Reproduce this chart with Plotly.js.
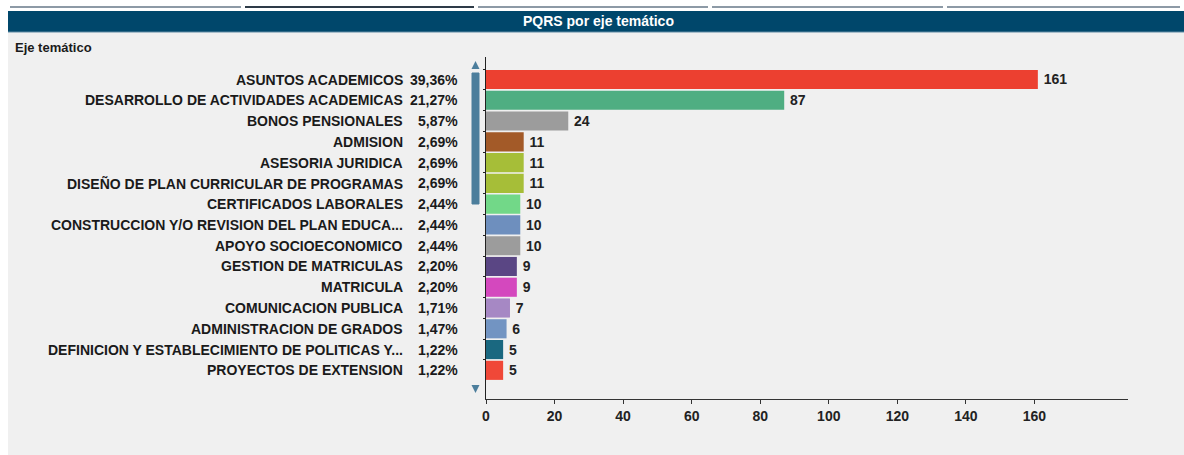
<!DOCTYPE html>
<html>
<head>
<meta charset="utf-8">
<script src="https://cdn.plot.ly/plotly-3.0.1.min.js"></script>
<style>
html,body{margin:0;padding:0;background:#fff;}
#chart{width:1184px;height:455px;}
</style>
</head>
<body>
<div id="chart"></div>
<script>
const categories = [
  "ASUNTOS ACADEMICOS",
  "DESARROLLO DE ACTIVIDADES ACADEMICAS",
  "BONOS PENSIONALES",
  "ADMISION",
  "ASESORIA JURIDICA",
  "DISEÑO DE PLAN CURRICULAR DE PROGRAMAS",
  "CERTIFICADOS LABORALES",
  "CONSTRUCCION Y/O REVISION DEL PLAN EDUCA...",
  "APOYO SOCIOECONOMICO",
  "GESTION DE MATRICULAS",
  "MATRICULA",
  "COMUNICACION PUBLICA",
  "ADMINISTRACION DE GRADOS",
  "DEFINICION Y ESTABLECIMIENTO DE POLITICAS Y...",
  "PROYECTOS DE EXTENSION"
];
const counts = [161, 87, 24, 11, 11, 11, 10, 10, 10, 9, 9, 7, 6, 5, 5];
const percents = ["39,36%", "21,27%", "5,87%", "2,69%", "2,69%", "2,69%", "2,44%", "2,44%", "2,44%", "2,20%", "2,20%", "1,71%", "1,47%", "1,22%", "1,22%"];
const barColors = ["#EC4030", "#4FAE82", "#9C9C9C", "#A35A28", "#A6BE38", "#A6BE38", "#72D888", "#6E8FBE", "#9C9C9C", "#5A4684", "#D448BE", "#A688C4", "#7294C2", "#1A6880", "#F04838"];
const xTicks = [0, 20, 40, 60, 80, 100, 120, 140, 160];
const chartTitle = "PQRS por eje temático";
const axisCaption = "Eje temático";

const W = 1184, H = 455;
const L = 486, R = 56, T = 57, B = 56;
const pw = W - L - R, ph = H - T - B;
const px = x => (x - L) / pw;            // pixel x -> paper x
const py = y => 1 - (y - T) / ph;        // pixel y -> paper y

const font = "Liberation Sans, Arial, sans-serif";
const FS = 14;

const trace = {
  type: "bar",
  orientation: "h",
  x: counts,
  y: categories,
  marker: {color: barColors, line: {width: 0}},
  text: counts.map(v => "\u2009" + v),
  textposition: "outside",
  cliponaxis: false,
  textfont: {family: font, size: FS, color: "#222222", weight: "bold"},
  hoverinfo: "x+y"
};

const annotations = [];
categories.forEach((c, i) => {
  annotations.push({
    xref: "paper", yref: "y", x: px(405), y: c, xanchor: "right", yanchor: "middle",
    text: "<b>" + c + "</b>", showarrow: false,
    font: {family: font, size: FS, color: "#1a1a1a"}
  });
  annotations.push({
    xref: "paper", yref: "y", x: px(460), y: c, xanchor: "right", yanchor: "middle",
    text: "<b>" + percents[i] + "</b>", showarrow: false,
    font: {family: font, size: FS, color: "#1a1a1a"}
  });
});
annotations.push({
  xref: "paper", yref: "paper", x: px(598), y: py(21), xanchor: "center", yanchor: "middle",
  text: "<b>" + chartTitle + "</b>", showarrow: false,
  font: {family: font, size: 14, color: "#ffffff"}
});
annotations.push({
  xref: "paper", yref: "paper", x: px(13), y: py(47), xanchor: "left", yanchor: "middle",
  text: "<b>" + axisCaption + "</b>", showarrow: false,
  font: {family: font, size: 13, color: "#1a1a1a"}
});

const shapes = [
  {type: "rect", xref: "paper", yref: "paper", x0: px(0), x1: px(8), y0: py(0), y1: py(H), fillcolor: "#ffffff", line: {width: 0}, layer: "below"},
  {type: "rect", xref: "paper", yref: "paper", x0: px(0), x1: px(W), y0: py(0), y1: py(11), fillcolor: "#ffffff", line: {width: 0}, layer: "below"},
  {type: "line", xref: "paper", yref: "paper", x0: px(10), x1: px(241), y0: py(7), y1: py(7), line: {color: "#8D9AA6", width: 2}},
  {type: "line", xref: "paper", yref: "paper", x0: px(245), x1: px(474), y0: py(7), y1: py(7), line: {color: "#2E3B48", width: 2}},
  {type: "line", xref: "paper", yref: "paper", x0: px(478), x1: px(708), y0: py(7), y1: py(7), line: {color: "#8D9AA6", width: 2}},
  {type: "line", xref: "paper", yref: "paper", x0: px(712), x1: px(943), y0: py(7), y1: py(7), line: {color: "#8D9AA6", width: 2}},
  {type: "line", xref: "paper", yref: "paper", x0: px(947), x1: px(1180), y0: py(7), y1: py(7), line: {color: "#8D9AA6", width: 2}},
  {type: "rect", xref: "paper", yref: "paper", x0: px(8), x1: px(W), y0: py(32), y1: py(11), fillcolor: "#00476B", line: {width: 0}},
  {type: "line", xref: "paper", yref: "paper", x0: px(8), x1: px(W), y0: py(32), y1: py(32), line: {color: "#5F8AA3", width: 1}},
  {type: "path", xref: "paper", yref: "paper",
   path: `M ${px(471.5)} ${py(69)} L ${px(479.5)} ${py(69)} L ${px(475.5)} ${py(61)} Z`,
   fillcolor: "#4C7E9C", line: {width: 0}},
  {type: "rect", xref: "paper", yref: "paper", x0: px(472), x1: px(479), y0: py(204), y1: py(73), fillcolor: "#4C7E9C", line: {color: "#4C7E9C", width: 1}},
  {type: "path", xref: "paper", yref: "paper",
   path: `M ${px(471.5)} ${py(385)} L ${px(479.5)} ${py(385)} L ${px(475.5)} ${py(393)} Z`,
   fillcolor: "#4C7E9C", line: {width: 0}}
];

const layout = {
  width: W, height: H,
  margin: {l: L, r: R, t: T, b: B, pad: 0},
  paper_bgcolor: "#F0F0F0",
  plot_bgcolor: "#F0F0F0",
  showlegend: false,
  bargap: 0.08,
  font: {family: font, color: "#1a1a1a"},
  xaxis: {
    range: [0, 187.3],
    tickvals: xTicks,
    ticktext: xTicks.map(String),
    showgrid: false, zeroline: false,
    showline: true, linecolor: "#333333", linewidth: 1,
    ticks: "outside", ticklen: 4, tickcolor: "#333333",
    tickfont: {family: font, size: FS, color: "#222222", weight: "bold"},
    fixedrange: true
  },
  yaxis: {
    range: [15.38, -1.083],
    type: "category",
    showticklabels: false,
    showgrid: false, zeroline: false,
    showline: true, linecolor: "#222222", linewidth: 1,
    ticks: "outside", ticklen: 2, tickcolor: "#222222", tickson: "boundaries",
    fixedrange: true
  },
  annotations: annotations,
  shapes: shapes
};

Plotly.newPlot("chart", [trace], layout, {displayModeBar: false, staticPlot: true});
</script>
</body>
</html>
